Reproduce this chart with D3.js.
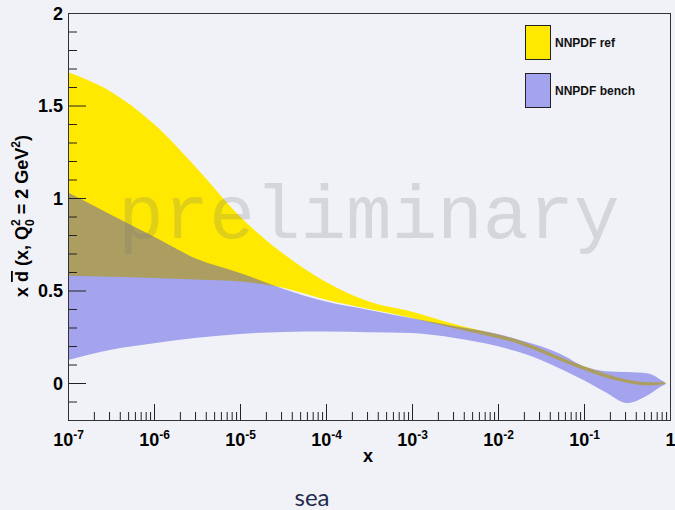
<!DOCTYPE html>
<html>
<head>
<meta charset="utf-8">
<script src="https://cdn.jsdelivr.net/npm/d3@7"></script>
<style>
  html, body { margin: 0; padding: 0; background: #f1f2f8; }
  svg { display: block; }
</style>
</head>
<body>
<svg id="chart" width="675" height="510"></svg>
<script>
// ---- data ----
const xValues = [1e-7, 3.16e-7, 1e-6, 3.16e-6, 1e-5, 3.16e-5, 1e-4, 3.16e-4, 1e-3, 3.16e-3,
                 1e-2, 1.78e-2, 3.16e-2, 5.62e-2, 0.1, 0.178, 0.316, 0.562, 0.794, 0.891];
// NNPDF ref (yellow band)
const refUpper = [1.68, 1.575, 1.40, 1.16, 0.90, 0.70, 0.546, 0.44, 0.385, 0.318,
                  0.262, 0.230, 0.185, 0.135, 0.090, 0.050, 0.019, 0.004, 0.004, 0.003];
const refLower = [0.58, 0.575, 0.568, 0.56, 0.548, 0.515, 0.45, 0.40, 0.352, 0.295,
                  0.242, 0.210, 0.165, 0.115, 0.070, 0.030, 0.001, -0.014, -0.008, -0.003];
// NNPDF bench (hatched blue band)
const benchUpper = [1.03, 0.91, 0.79, 0.67, 0.595, 0.51, 0.44, 0.395, 0.35, 0.307,
                    0.265, 0.233, 0.198, 0.152, 0.090, 0.064, 0.059, 0.052, 0.015, 0.0];
const benchLower = [0.125, 0.18, 0.215, 0.245, 0.265, 0.276, 0.278, 0.275, 0.27, 0.243,
                    0.198, 0.166, 0.125, 0.072, 0.015, -0.05, -0.108, -0.063, -0.018, -0.005];
const seriesNames = ["NNPDF ref", "NNPDF bench"];
const yMajorTicks = [0, 0.5, 1, 1.5, 2];
const yMinorTicks = [-0.1, 0.1, 0.2, 0.3, 0.4, 0.6, 0.7, 0.8, 0.9, 1.1, 1.2, 1.3, 1.4, 1.6, 1.7, 1.8, 1.9];
const xExponents = [-7, -6, -5, -4, -3, -2, -1, 0];

// ---- layout ----
const svg = d3.select("#chart");
const L = 68, R = 670, T = 13, B = 420;
const x = d3.scaleLog().domain([1e-7, 1]).range([L, R]);
const y = d3.scaleLinear().domain([-0.2, 2]).range([B, T]);

const yellow = "#ffe900";
const benchColor = "#3c3cde", benchOpacity = 0.43;

const defs = svg.append("defs");
defs.append("clipPath").attr("id", "plotclip").append("rect")
  .attr("x", L).attr("y", T).attr("width", R - L).attr("height", B - T);

const refData = xValues.map((v, i) => ({x: v, lo: refLower[i], hi: refUpper[i]}));
const benchData = xValues.map((v, i) => ({x: v, lo: benchLower[i], hi: benchUpper[i]}));
const area = d3.area().x(d => x(d.x)).y0(d => y(d.lo)).y1(d => y(d.hi)).curve(d3.curveMonotoneX);

const plot = svg.append("g").attr("clip-path", "url(#plotclip)");
plot.append("path").datum(refData).attr("d", area).attr("fill", yellow);
plot.append("path").datum(benchData).attr("d", area)
  .attr("fill", benchColor).attr("fill-opacity", benchOpacity);

// watermark
svg.append("text").attr("x", 118).attr("y", 238)
  .attr("font-family", "'Liberation Mono', 'Courier New', monospace")
  .attr("font-size", 76).attr("fill", "#707070").attr("fill-opacity", 0.22)
  .text("preliminary");

// ---- axes ----
const axisColor = "#222";
const gy = svg.append("g").attr("transform", `translate(${L},0)`);
gy.call(d3.axisLeft(y).tickValues(yMinorTicks).tickSize(-9).tickFormat(""));
const gyM = svg.append("g").attr("transform", `translate(${L},0)`);
gyM.call(d3.axisLeft(y).tickValues(yMajorTicks).tickSize(-18).tickPadding(5).tickFormat(d3.format("")));
[gy, gyM].forEach(g => {
  g.select(".domain").remove();
  g.selectAll("line").attr("stroke", axisColor);
});
gyM.selectAll("text").attr("font-family", "Liberation Sans, Arial, sans-serif")
  .attr("font-weight", "bold").attr("font-size", 18).attr("fill", "#000").attr("dy", "0.36em");

const minorX = [];
for (let e = -7; e < 0; e++) for (let m = 2; m <= 9; m++) minorX.push(m * Math.pow(10, e));
const gxm = svg.append("g").attr("transform", `translate(0,${B})`);
gxm.call(d3.axisBottom(x).tickValues(minorX).tickSize(-8).tickFormat(""));
const gx = svg.append("g").attr("transform", `translate(0,${B})`);
gx.call(d3.axisBottom(x).tickValues(xExponents.map(e => Math.pow(10, e))).tickSize(-16).tickPadding(9).tickFormat(""));
[gxm, gx].forEach(g => {
  g.select(".domain").remove();
  g.selectAll("line").attr("stroke", axisColor);
});
gx.selectAll(".tick text").each(function(d, i) {
  const t = d3.select(this);
  const e = xExponents[i];
  t.attr("font-family", "Liberation Sans, Arial, sans-serif").attr("font-weight", "bold")
    .attr("font-size", 18).attr("fill", "#000").attr("dy", "0.95em");
  if (e === 0) { t.text("1"); return; }
  t.append("tspan").text("10");
  t.append("tspan").attr("font-size", 12).attr("dy", -7).text(String(e));
});

// frame
svg.append("rect").attr("x", L).attr("y", T).attr("width", R - L).attr("height", B - T)
  .attr("fill", "none").attr("stroke", "#333").attr("stroke-width", 1).attr("shape-rendering", "crispEdges");

// axis titles
const font = "Liberation Sans, Arial, sans-serif";
svg.append("text").attr("x", 368).attr("y", 462).attr("text-anchor", "middle")
  .attr("font-family", font).attr("font-weight", "bold").attr("font-size", 18).text("x");

const yt = svg.append("text").attr("transform", "translate(28,216) rotate(-90)")
  .attr("text-anchor", "middle").attr("font-family", font).attr("font-weight", "bold").attr("font-size", 18);
yt.append("tspan").text("x ");
yt.append("tspan").style("text-decoration", "overline").text("d");
yt.append("tspan").text(" (x, Q");
yt.append("tspan").attr("font-size", 12).attr("dy", -8).text("2");
yt.append("tspan").attr("font-size", 12).attr("dx", -6.7).attr("dy", 14).text("0");
yt.append("tspan").attr("dy", -6).text(" = 2 GeV");
yt.append("tspan").attr("font-size", 12).attr("dy", -8).text("2");
yt.append("tspan").attr("dy", 8).text(")");

// legend
const leg = svg.append("g");
seriesNames.forEach((name, i) => {
  const yy = 25 + i * 48;
  leg.append("rect").attr("x", 525.5).attr("y", yy + 0.5).attr("width", 25).attr("height", 34)
    .attr("fill", i === 0 ? yellow : benchColor).attr("fill-opacity", i === 0 ? 1 : benchOpacity)
    .attr("stroke", "#222").attr("stroke-width", 1);
  leg.append("text").attr("x", 555).attr("y", yy + 22).attr("font-family", font)
    .attr("font-weight", "bold").attr("font-size", 12).attr("fill", "#111").text(name);
});

// caption
svg.append("text").attr("x", 312).attr("y", 506).attr("text-anchor", "middle")
  .attr("font-family", "Lato, sans-serif").attr("font-size", 24).attr("fill", "#1f2a4c").text("sea");
</script>
</body>
</html>
